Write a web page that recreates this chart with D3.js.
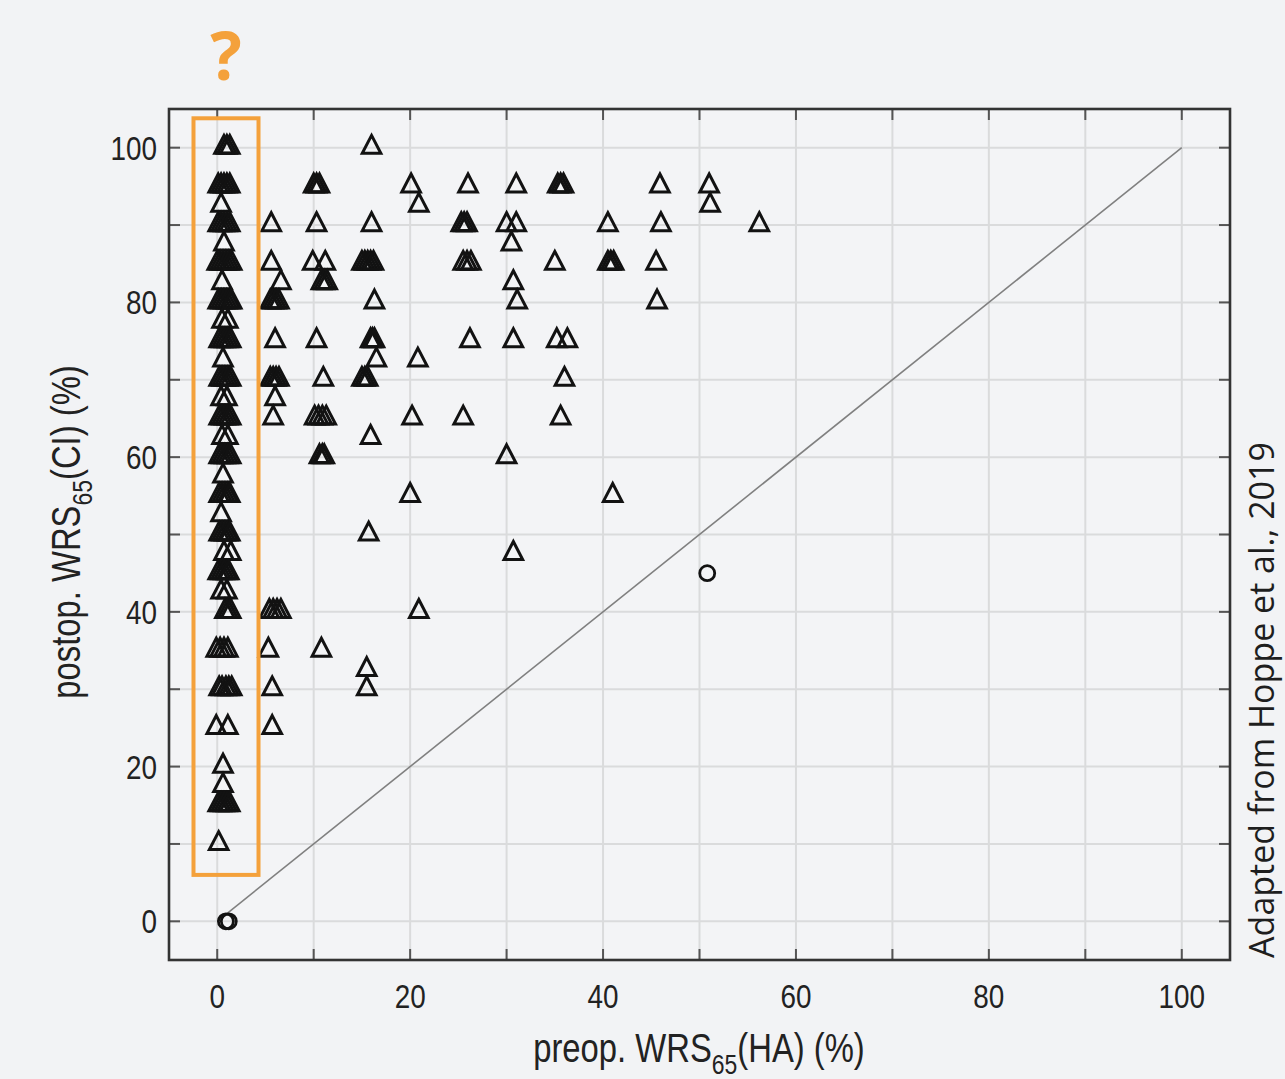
<!DOCTYPE html>
<html>
<head>
<meta charset="utf-8">
<script src="https://cdn.jsdelivr.net/npm/d3@7"></script>
<style>
  body { margin: 0; background: #f2f3f5; }
  svg { display: block; }
</style>
</head>
<body>
<script>
// y rows of WRS65 (CI) and the preop HA values seen on each row (triangles)
var rowY = [100, 95, 92.5, 90, 87.5, 85, 82.5, 80, 77.5, 75, 72.5, 70, 67.5, 65, 62.5, 60,
            57.5, 55, 52.5, 50, 47.5, 45, 42.5, 40, 35, 32.5, 30, 25, 20, 17.5, 15, 10];
var rowX = [
  [0.7, 1.0, 1.3, 16.0],
  [0.1, 0.4, 0.7, 1.0, 1.3, 10.0, 10.3, 10.6, 20.1, 26.0, 31.0, 35.3, 35.6, 35.9, 45.9, 51.0],
  [0.4, 20.9, 51.1],
  [0.1, 0.4, 0.7, 1.0, 1.3, 5.6, 10.3, 16.0, 25.3, 25.6, 25.9, 30.0, 31.0, 40.5, 46.0, 56.2],
  [0.7, 30.5],
  [0.0, 0.3, 0.6, 0.9, 1.2, 1.5, 5.6, 9.9, 11.2, 15.0, 15.3, 15.6, 15.9, 16.2, 25.5, 25.9, 26.3, 35.0, 40.5, 40.8, 41.1, 45.5],
  [0.5, 6.6, 10.8, 11.1, 11.4, 30.7],
  [0.1, 0.4, 0.7, 1.0, 1.3, 1.5, 5.5, 5.8, 6.1, 6.4, 16.3, 31.1, 45.6],
  [0.5, 1.1],
  [0.2, 0.5, 0.8, 1.1, 1.4, 6.0, 10.3, 15.9, 16.1, 16.3, 26.2, 30.7, 35.2, 36.3],
  [0.6, 16.5, 20.8],
  [0.2, 0.5, 0.8, 1.1, 1.4, 5.5, 5.8, 6.1, 6.4, 11.0, 15.0, 15.3, 15.6, 36.0],
  [0.4, 1.0, 6.0],
  [0.2, 0.5, 0.8, 1.1, 1.4, 5.8, 10.1, 10.5, 10.9, 11.3, 20.2, 25.5, 35.6],
  [0.5, 1.1, 15.9],
  [0.2, 0.5, 0.8, 1.1, 1.4, 10.6, 10.9, 11.1, 30.0],
  [0.6],
  [0.2, 0.5, 0.8, 1.1, 1.3, 20.0, 41.0],
  [0.4],
  [0.2, 0.5, 0.8, 1.1, 1.3, 15.7],
  [0.7, 1.4, 30.7],
  [0.1, 0.4, 0.7, 1.0, 1.2],
  [0.4, 1.0],
  [0.8, 1.1, 1.4, 5.4, 5.8, 6.2, 6.6, 20.9],
  [-0.1, 0.3, 0.7, 1.1, 5.3, 10.8],
  [15.5],
  [0.2, 0.5, 0.9, 1.2, 1.5, 5.7, 15.5],
  [-0.1, 1.1, 5.7],
  [0.6],
  [0.6],
  [0.1, 0.4, 0.7, 1.0, 1.3],
  [0.15]
];
// circles
var circX = [0.9, 1.2, 50.8];
var circY = [0, 0, 45];

var xTicks = [0, 20, 40, 60, 80, 100];
var yTicks = [0, 20, 40, 60, 80, 100];
var gridVals = d3.range(0, 101, 10);

var W = 1285, H = 1079;
var svg = d3.select("body").append("svg").attr("width", W).attr("height", H);

var x = d3.scaleLinear().domain([-5, 105]).range([169, 1230]);
var y = d3.scaleLinear().domain([-5, 105]).range([960, 109]);

// plot background
svg.append("rect").attr("x", x(-5)).attr("y", y(105))
   .attr("width", x(105) - x(-5)).attr("height", y(-5) - y(105))
   .attr("fill", "#f3f4f6");

// grid
svg.selectAll(".gx").data(gridVals).enter().append("line")
   .attr("x1", function(d){ return x(d); }).attr("x2", function(d){ return x(d); })
   .attr("y1", y(105)).attr("y2", y(-5))
   .attr("stroke", "#dadbdc").attr("stroke-width", 2);
svg.selectAll(".gy").data(gridVals).enter().append("line")
   .attr("y1", function(d){ return y(d); }).attr("y2", function(d){ return y(d); })
   .attr("x1", x(-5)).attr("x2", x(105))
   .attr("stroke", "#dadbdc").attr("stroke-width", 2);

// inward ticks on all four sides
var tl = 11;
gridVals.forEach(function(d){
  svg.append("line").attr("x1", x(d)).attr("x2", x(d)).attr("y1", y(-5)).attr("y2", y(-5) - tl)
     .attr("stroke", "#555").attr("stroke-width", 2);
  svg.append("line").attr("x1", x(d)).attr("x2", x(d)).attr("y1", y(105)).attr("y2", y(105) + tl)
     .attr("stroke", "#555").attr("stroke-width", 2);
  svg.append("line").attr("y1", y(d)).attr("y2", y(d)).attr("x1", x(-5)).attr("x2", x(-5) + tl)
     .attr("stroke", "#555").attr("stroke-width", 2);
  svg.append("line").attr("y1", y(d)).attr("y2", y(d)).attr("x1", x(105)).attr("x2", x(105) - tl)
     .attr("stroke", "#555").attr("stroke-width", 2);
});

// diagonal identity line
svg.append("line").attr("x1", x(0)).attr("y1", y(0)).attr("x2", x(100)).attr("y2", y(100))
   .attr("stroke", "#808080").attr("stroke-width", 1.6);

// frame
svg.append("rect").attr("x", x(-5)).attr("y", y(105))
   .attr("width", x(105) - x(-5)).attr("height", y(-5) - y(105))
   .attr("fill", "none").attr("stroke", "#333").attr("stroke-width", 2.6);

// tick labels (condensed look)
var tickFont = "'Liberation Sans', Arial, sans-serif";
svg.selectAll(".xl").data(xTicks).enter().append("text")
   .attr("transform", function(d){ return "translate(" + x(d) + ",1008) scale(0.82,1)"; })
   .attr("text-anchor", "middle").attr("font-family", tickFont).attr("font-size", 34)
   .attr("fill", "#222").text(function(d){ return d; });
svg.selectAll(".yl").data(yTicks).enter().append("text")
   .attr("transform", function(d){ return "translate(157," + (y(d) + 12) + ") scale(0.82,1)"; })
   .attr("text-anchor", "end").attr("font-family", tickFont).attr("font-size", 34)
   .attr("fill", "#222").text(function(d){ return d; });

// axis titles
var xt = svg.append("text")
   .attr("transform", "translate(699,1062) scale(0.82,1)")
   .attr("text-anchor", "middle").attr("font-family", tickFont).attr("font-size", 40).attr("fill", "#222");
xt.append("tspan").text("preop. WRS");
xt.append("tspan").attr("font-size", 28).attr("dy", 12).text("65");
xt.append("tspan").attr("dy", -12).text("(HA) (%)");

var yt = svg.append("text")
   .attr("transform", "translate(80,532) rotate(-90) scale(0.82,1)")
   .attr("text-anchor", "middle").attr("font-family", tickFont).attr("font-size", 40).attr("fill", "#222");
yt.append("tspan").text("postop. WRS");
yt.append("tspan").attr("font-size", 28).attr("dy", 12).text("65");
yt.append("tspan").attr("dy", -12).text("(CI) (%)");

// triangles
var tri = [];
rowY.forEach(function(yy, i){ rowX[i].forEach(function(xx){ tri.push([xx, yy]); }); });

svg.append("g").selectAll("path").data(tri).enter().append("path")
   .attr("transform", function(d){ return "translate(" + x(d[0]) + "," + y(d[1]) + ")"; })
   .attr("d", "M0,-12.3L9.3,5.6L-9.3,5.6Z")
   .attr("fill", "none").attr("stroke", "#121212").attr("stroke-width", 3);

svg.append("g").selectAll("circle").data(circX).enter().append("circle")
   .attr("cx", function(d){ return x(d); })
   .attr("cy", function(d, i){ return y(circY[i]); })
   .attr("r", 7.5)
   .attr("fill", "none").attr("stroke", "#121212").attr("stroke-width", 2.8);

// orange highlight box and question mark
svg.append("rect").attr("x", x(-2.46)).attr("y", y(103.8))
   .attr("width", x(4.28) - x(-2.46)).attr("height", y(6) - y(103.8))
   .attr("fill", "none").attr("stroke", "#f4a13b").attr("stroke-width", 4);
svg.append("text").attr("x", 226).attr("y", 80).attr("text-anchor", "middle")
   .attr("font-family", "'Open Sans', 'Noto Sans', sans-serif").attr("font-weight", 700)
   .attr("font-size", 66).attr("fill", "#f4a13b").text("?");

// source note
svg.append("text").attr("transform", "translate(1274,700) rotate(-90)")
   .attr("text-anchor", "middle").attr("font-family", "'Open Sans', 'Noto Sans', sans-serif")
   .attr("font-size", 34).attr("fill", "#1e1e1e").text("Adapted from Hoppe et al., 2019");
</script>
</body>
</html>
